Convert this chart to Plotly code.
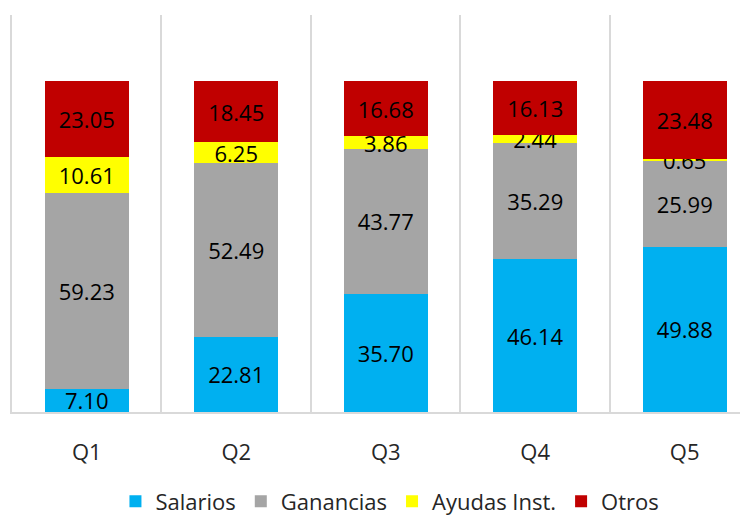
import plotly.graph_objects as go

quintiles = ["Q1", "Q2", "Q3", "Q4", "Q5"]
salarios = [7.10, 22.81, 35.70, 46.14, 49.88]
ganancias = [59.23, 52.49, 43.77, 35.29, 25.99]
ayudas = [10.61, 6.25, 3.86, 2.44, 0.65]
otros = [23.05, 18.45, 16.68, 16.13, 23.48]

series = [
    ("Salarios", salarios, "#00B0F0"),
    ("Ganancias", ganancias, "#A5A5A5"),
    ("Ayudas Inst.", ayudas, "#FFFF00"),
    ("Otros", otros, "#C00000"),
]

x_pos = list(range(len(quintiles)))
fig = go.Figure()
for name, vals, color in series:
    fig.add_trace(
        go.Bar(
            x=x_pos,
            y=vals,
            name=name,
            marker=dict(color=color, line_width=0),
            width=0.56,
            text=[f"{v:.2f}" for v in vals],
            textposition="inside",
            insidetextanchor="middle",
            insidetextfont=dict(color="black", size=22),
        )
    )

grid = "#D9D9D9"
# la pagina tiene ~8px de margen, lo compensamos en los margenes
fig.update_layout(
    barmode="stack",
    width=748,
    height=517,
    margin=dict(l=4, r=0, t=7, b=113, autoexpand=False),
    plot_bgcolor="white",
    paper_bgcolor="white",
    font=dict(family="Open Sans, Noto Sans, sans-serif", size=22, color="#262626"),
    uniformtext=dict(minsize=22, mode="show"),
    legend=dict(
        orientation="h",
        x=0.508,
        xanchor="center",
        y=-0.225,
        yanchor="middle",
        font=dict(size=22),
        itemwidth=30,
        traceorder="normal",
    ),
    showlegend=True,
)
fig.update_xaxes(
    range=[-0.5, 4.477],
    tickvals=x_pos,
    ticktext=quintiles,
    showgrid=False,
    zeroline=False,
    showline=True,
    linecolor=grid,
    linewidth=2,
    ticklabelstandoff=20,
    minor=dict(tick0=0.5, dtick=1, showgrid=True, gridcolor=grid, gridwidth=2),
)
fig.update_yaxes(
    range=[0, 120],
    showticklabels=False,
    showgrid=False,
    zeroline=False,
    showline=True,
    linecolor=grid,
    linewidth=2,
)

fig.write_html("out.html")
